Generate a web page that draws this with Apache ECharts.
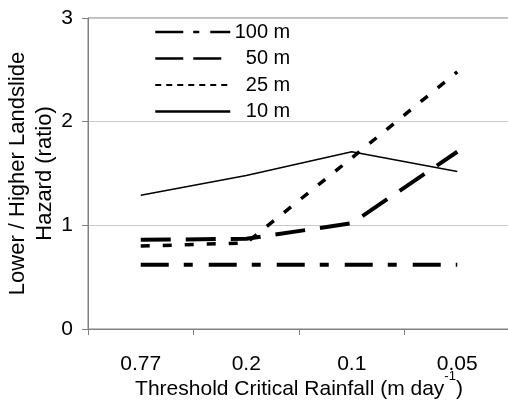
<!DOCTYPE html>
<html>
<head>
<meta charset="utf-8">
<script src="https://cdn.jsdelivr.net/npm/echarts@6/dist/echarts.min.js"></script>
<style>
html,body{margin:0;padding:0;background:#fff;}
#chart{width:508px;height:403px;}
</style>
</head>
<body>
<div id="chart"></div>
<script>
var categories = ['0.77', '0.2', '0.1', '0.05'];
var yTicks = [0, 1, 2, 3];
var seriesNames = ['100 m', '50 m', '25 m', '10 m'];
var s100 = [0.62, 0.62, 0.62, 0.62];
var s50 = [0.86, 0.87, 1.02, 1.71];
var s25 = [0.80, 0.83, 1.65, 2.48];
var s10 = [1.29, 1.48, 1.71, 1.52];

var FONT = '"Liberation Sans", Arial, sans-serif';
var chart = echarts.init(document.getElementById('chart'), null, {renderer: 'canvas'});

var option = {
  backgroundColor: '#fff',
  animation: false,
  textStyle: {fontFamily: FONT, color: '#000'},
  grid: {left: 88, top: 18, width: 422, height: 311, containLabel: false, outerBoundsMode: 'none',
         show: true, borderColor: '#808080', borderWidth: 1, backgroundColor: 'transparent'},
  legend: {
    orient: 'vertical', left: 154, top: 22, padding: 0,
    itemWidth: 75, itemHeight: 20, itemGap: 6.5,
    itemStyle: {opacity: 0},
    formatter: function (name) { return '{r|' + name + '}'; },
    textStyle: {
      fontFamily: FONT, fontSize: 20, color: '#000',
      rich: {r: {fontFamily: FONT, fontSize: 20, color: '#000', width: 55, align: 'right'}}
    },
    data: [
      {name: seriesNames[0], lineStyle: {width: 2.5, type: [28, 10, 6, 11], color: '#000'}},
      {name: seriesNames[1], lineStyle: {width: 2.5, type: [28, 10], color: '#000'}},
      {name: seriesNames[2], lineStyle: {width: 2, type: [6, 5], color: '#000'}},
      {name: seriesNames[3], lineStyle: {width: 2.5, type: 'solid', color: '#000'}}
    ]
  },
  xAxis: {
    type: 'category', data: categories, boundaryGap: true,
    axisLine: {lineStyle: {color: '#808080', width: 1}},
    axisTick: {show: true, length: 6, lineStyle: {color: '#808080'}},
    axisLabel: {fontSize: 21, color: '#000', margin: 25, fontFamily: FONT},
    name: '{a|Threshold Critical Rainfall (m day}{s|-1}{a|)}',
    nameLocation: 'middle', nameGap: 41, nameMoveOverlap: false,
    nameTextStyle: {
      fontFamily: FONT, color: '#000',
      rich: {
        a: {fontSize: 21, fontFamily: FONT, color: '#000', lineHeight: 30, verticalAlign: 'bottom'},
        s: {fontSize: 13, fontFamily: FONT, color: '#000', lineHeight: 14, verticalAlign: 'top'}
      }
    }
  },
  yAxis: {
    type: 'value', min: yTicks[0], max: yTicks[yTicks.length - 1], interval: 1,
    axisLine: {show: true, lineStyle: {color: '#808080', width: 1}},
    axisTick: {show: true, length: 6, lineStyle: {color: '#808080'}},
    axisLabel: {fontSize: 21, color: '#000', margin: 15, fontFamily: FONT},
    splitLine: {show: true, lineStyle: {color: '#c8c8c8', width: 1}},
    name: 'Lower / Higher Landslide\nHazard (ratio)',
    nameLocation: 'middle', nameGap: 30, nameRotate: 90, nameMoveOverlap: false,
    nameTextStyle: {fontFamily: FONT, fontSize: 22, color: '#000', lineHeight: 27}
  },
  series: [
    {name: seriesNames[0], type: 'line', data: s100, symbol: 'none', z: 2, itemStyle: {color: '#000'},
     lineStyle: {color: '#000', width: 4, type: [28, 15, 9, 16]}},
    {name: seriesNames[1], type: 'line', data: s50, symbol: 'none', z: 3, itemStyle: {color: '#000'},
     lineStyle: {color: '#000', width: 4, type: [30, 15]}},
    {name: seriesNames[2], type: 'line', data: s25, symbol: 'none', z: 4, itemStyle: {color: '#000'},
     lineStyle: {color: '#000', width: 3.5, type: [9, 13]}},
    {name: seriesNames[3], type: 'line', data: s10, symbol: 'none', z: 5, itemStyle: {color: '#000'},
     lineStyle: {color: '#000', width: 1.5, type: 'solid'}}
  ]
};
chart.setOption(option);
</script>
</body>
</html>
